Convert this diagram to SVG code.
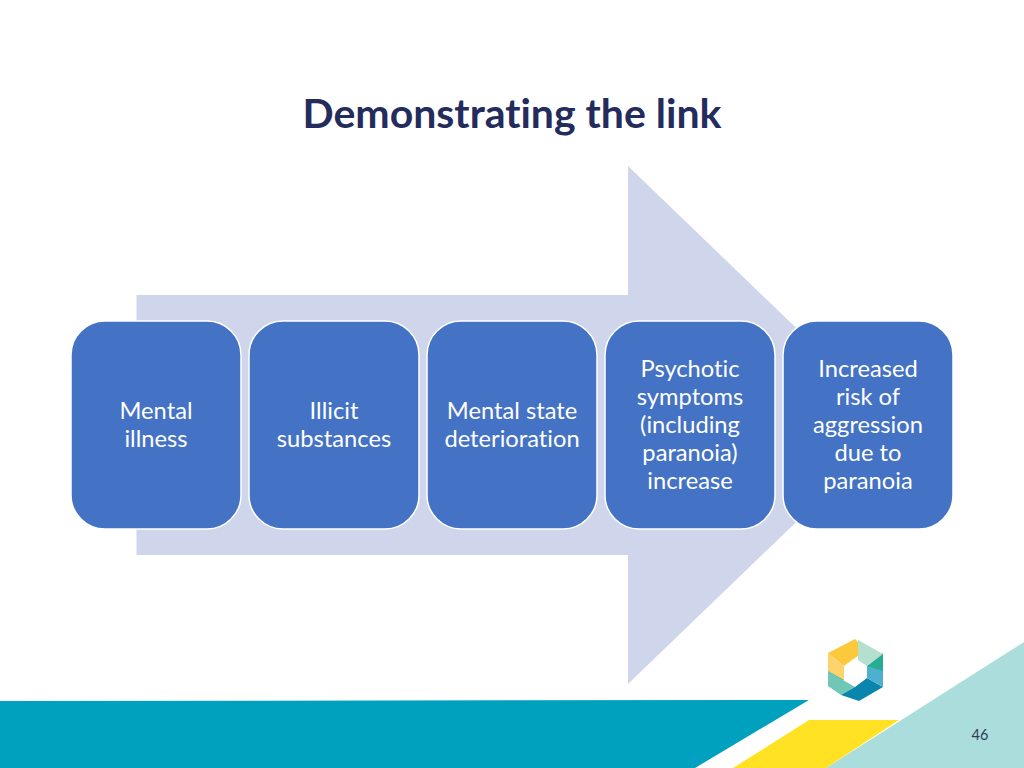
<svg xmlns="http://www.w3.org/2000/svg" width="1024" height="768" viewBox="0 0 1024 768">
<style>
text{font-variant-ligatures:none}
.box{fill:#4472c4;stroke:#fff;stroke-width:1.5}
.lbl{font-family:"Lato","Open Sans",sans-serif;font-size:23.7px;fill:#fff;text-anchor:middle}
</style>
<rect width="1024" height="768" fill="#fff"/>
<g id="footer">
<polygon points="0,701 809,700 695,768 0,768" fill="#00a0bf"/>
<polygon points="1024,642 1024,768 826,768" fill="#abdddd"/>
<polygon points="809,720 899,720 826,768 733,768" fill="#ffe224"/>
</g>
<text x="512" y="128" font-family="Lato,'Open Sans',sans-serif" font-size="41" font-weight="700" fill="#232c5c" text-anchor="middle">Demonstrating the link</text>
<g id="arrow"><polygon points="136.500,295 628,295 628,166 897,425 628,684 628,555 136.500,555" fill="#cfd5ea"/></g>
<g id="node-1"><rect class="box" x="71" y="321" width="170" height="208" rx="34"/><text class="lbl" x="156" y="418.500">Mental</text><text class="lbl" x="156" y="446.500">illness</text></g>
<g id="node-2"><rect class="box" x="249" y="321" width="170" height="208" rx="34"/><text class="lbl" x="334" y="418.500">Illicit</text><text class="lbl" x="334" y="446.500">substances</text></g>
<g id="node-3"><rect class="box" x="427" y="321" width="170" height="208" rx="34"/><text class="lbl" x="512" y="418.500">Mental state</text><text class="lbl" x="512" y="446.500">deterioration</text></g>
<g id="node-4"><rect class="box" x="605" y="321" width="170" height="208" rx="34"/><text class="lbl" x="690" y="376.500">Psychotic</text><text class="lbl" x="690" y="404.500">symptoms</text><text class="lbl" x="690" y="432.500">(including</text><text class="lbl" x="690" y="460.500">paranoia)</text><text class="lbl" x="690" y="488.500">increase</text></g>
<g id="node-5"><rect class="box" x="783" y="321" width="170" height="208" rx="34"/><text class="lbl" x="868" y="376.500">Increased</text><text class="lbl" x="868" y="404.500">risk of</text><text class="lbl" x="868" y="432.500">aggression</text><text class="lbl" x="868" y="460.500">due to</text><text class="lbl" x="868" y="488.500">paranoia</text></g>
<g id="logo">
<polygon points="828,653 855,639 861,645 861,654 852,660 844,666 839,662" fill="#fcc83c"/>
<polygon points="828,653 839,662 844,666 844,680 836,676 828,671" fill="#fdd46c"/>
<polygon points="828,671 844,680 828,686" fill="#3cb595"/>
<polygon points="828,671 836,676 855,687 841,695 828,686" fill="#6fc7b5"/>
<polygon points="855,687 867,678 883,687 859,701 841,695" fill="#0a86ad"/>
<polygon points="867,678 867,666 883,660 883,687" fill="#4db0ce"/>
<polygon points="867,666 883,653 883,671" fill="#26ad94"/>
<polygon points="858,640 883,654 867,666 858,660" fill="#b5dfcf"/>
</g>
<text x="980" y="740" font-family="Lato,'Open Sans',sans-serif" font-size="14.500" fill="#2f3b5c" text-anchor="middle">46</text>
</svg>
